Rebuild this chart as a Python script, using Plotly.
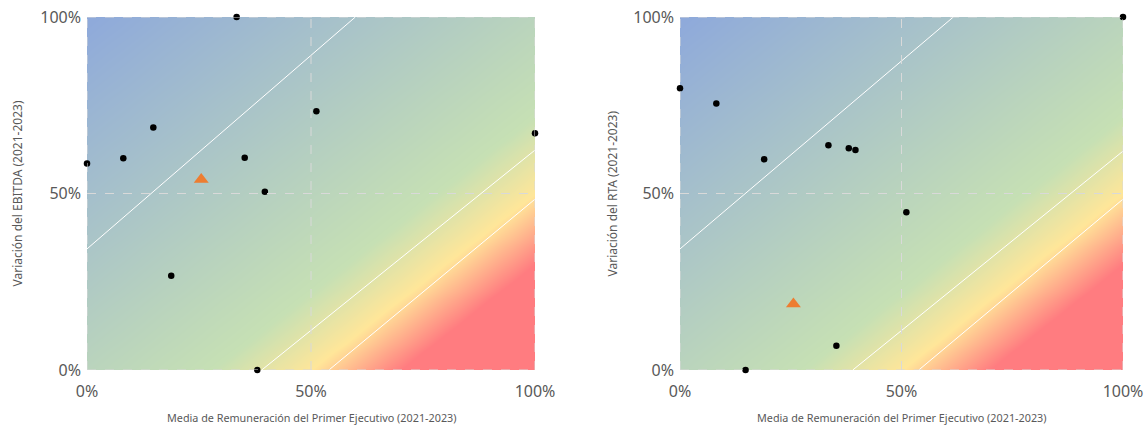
import numpy as np
import plotly.graph_objects as go

# ---------------- data ----------------
tick_vals = [0, 0.5, 1]
tick_text = ["0%", "50%", "100%"]

ebitda_rem = [0.0, 0.081, 0.148, 0.188, 0.334, 0.352, 0.397, 0.380, 0.512, 1.0]
ebitda_var = [0.585, 0.600, 0.687, 0.267, 1.0, 0.601, 0.505, 0.0, 0.733, 0.671]
ebitda_avg_rem = [0.255]
ebitda_avg_var = [0.540]

rta_rem = [0.0, 0.082, 0.190, 0.335, 0.381, 0.396, 0.511, 0.353, 0.148, 1.0]
rta_var = [0.798, 0.755, 0.597, 0.637, 0.628, 0.623, 0.447, 0.069, 0.0, 1.0]
rta_avg_rem = [0.256]
rta_avg_var = [0.187]

# reference lines (white) per panel: (x0, y0, x1, y1)
left_lines = [(0.0, 0.343, 0.599, 1.0), (0.39, 0.0, 1.0, 0.623), (0.54, 0.0, 1.0, 0.484)]
right_lines = [(0.0, 0.343, 0.617, 1.0), (0.39, 0.0, 1.0, 0.620), (0.539, 0.0, 1.0, 0.484)]

x_title = "Media de Remuneración del Primer Ejecutivo (2021-2023)"
y_titles = ["Variación del EBITDA (2021-2023)", "Variación del RTA (2021-2023)"]

# ---------------- layout geometry ----------------
W, H = 1145, 427
FONT = "Noto Sans"
GRAY = "#595959"

panels = [
    dict(x0=87, x1=535, xa="x", ya="y", rem=ebitda_rem, var=ebitda_var,
         arem=ebitda_avg_rem, avar=ebitda_avg_var, lines=left_lines, ytitle=y_titles[0], ytx=17),
    dict(x0=680, x1=1123, xa="x2", ya="y2", rem=rta_rem, var=rta_var,
         arem=rta_avg_rem, avar=rta_avg_var, lines=right_lines, ytitle=y_titles[1], ytx=612),
]
ytop, ybot = 17, 370

# background gradient colour scale (blue -> green -> yellow -> red)
colorscale = [
    [0.0, "#8EA9DB"],
    [0.64, "#C6E0B4"],
    [0.75, "#FFE699"],
    [0.85, "#FF7C80"],
    [1.0, "#FF7C80"],
]
gx = np.linspace(0, 1, 41)
gy = np.linspace(0, 1, 41)
gz = gx[None, :] - gy[:, None]

fig = go.Figure()
shapes = []
annotations = []

for i, p in enumerate(panels):
    fig.add_trace(go.Heatmap(x=gx, y=gy, z=gz, zmin=-1, zmax=1, colorscale=colorscale,
                             zsmooth="best", showscale=False, hoverinfo="skip",
                             xaxis=p["xa"], yaxis=p["ya"]))
    for (lx0, ly0, lx1, ly1) in p["lines"]:
        fig.add_trace(go.Scatter(x=[lx0, lx1], y=[ly0, ly1], mode="lines",
                                 line=dict(color="white", width=1), hoverinfo="skip",
                                 showlegend=False, xaxis=p["xa"], yaxis=p["ya"]))
    fig.add_trace(go.Scatter(x=p["rem"], y=p["var"], mode="markers",
                             marker=dict(color="black", size=6.5), cliponaxis=False,
                             showlegend=False, xaxis=p["xa"], yaxis=p["ya"]))
    fig.add_trace(go.Scatter(x=p["arem"], y=p["avar"], mode="markers",
                             marker=dict(color="#ED7D31", size=13, symbol="triangle-up"),
                             cliponaxis=False, showlegend=False,
                             xaxis=p["xa"], yaxis=p["ya"]))
    # dashed grid (drawn above the background)
    for v in tick_vals:
        shapes.append(dict(type="line", xref=p["xa"], yref=p["ya"], x0=v, x1=v, y0=0, y1=1,
                           line=dict(color="#D9D9D9", width=1, dash="dash"), layer="above"))
        shapes.append(dict(type="line", xref=p["xa"], yref=p["ya"], x0=0, x1=1, y0=v, y1=v,
                           line=dict(color="#D9D9D9", width=1, dash="dash"), layer="above"))
    annotations.append(dict(text=x_title, xref="paper", yref="paper",
                            x=(p["x0"] + p["x1"]) / 2 / W, y=1 - 417 / H,
                            showarrow=False, font=dict(family=FONT, size=10.8, color=GRAY),
                            xanchor="center", yanchor="middle"))
    annotations.append(dict(text=p["ytitle"], xref="paper", yref="paper",
                            x=p["ytx"] / W, y=1 - ((ytop + ybot) / 2) / H, textangle=-90,
                            showarrow=False, font=dict(family=FONT, size=12, color=GRAY),
                            xanchor="center", yanchor="middle"))

axis_common = dict(range=[0, 1], tickvals=tick_vals, ticktext=tick_text, showgrid=False,
                   zeroline=False, showline=False, ticks="", automargin=False,
                   tickfont=dict(family=FONT, size=16, color=GRAY), fixedrange=True)

fig.update_layout(
    width=W, height=H,
    margin=dict(l=0, r=0, t=0, b=0),
    paper_bgcolor="white", plot_bgcolor="white",
    showlegend=False,
    xaxis=dict(domain=[panels[0]["x0"] / W, panels[0]["x1"] / W], anchor="y",
               ticklabelstandoff=10, **axis_common),
    yaxis=dict(domain=[1 - ybot / H, 1 - ytop / H], anchor="x",
               ticklabelstandoff=5, **axis_common),
    xaxis2=dict(domain=[panels[1]["x0"] / W, panels[1]["x1"] / W], anchor="y2",
                ticklabelstandoff=10, **axis_common),
    yaxis2=dict(domain=[1 - ybot / H, 1 - ytop / H], anchor="x2",
                ticklabelstandoff=5, **axis_common),
    shapes=shapes,
    annotations=annotations,
)

fig.write_html(
    "out.html",
    config={"displayModeBar": False, "staticPlot": True},
    post_script="document.body.style.margin='0';document.body.style.overflow='hidden';",
)
